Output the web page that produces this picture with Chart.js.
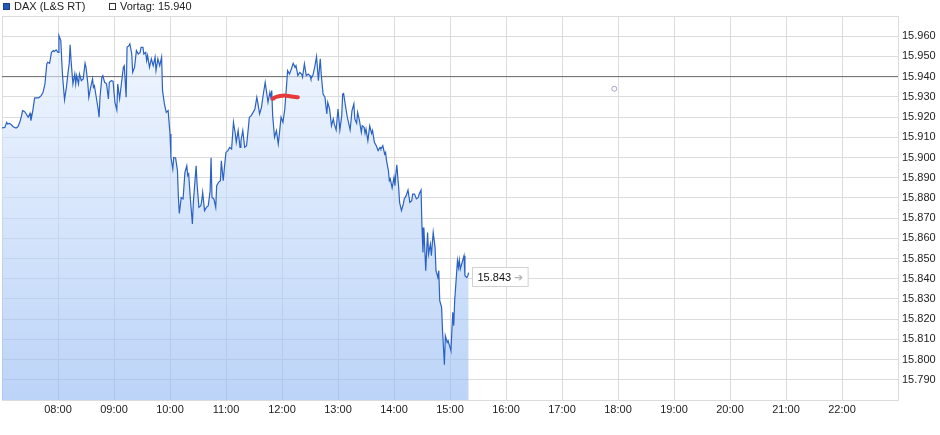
<!DOCTYPE html>
<html>
<head>
<meta charset="utf-8">
<script src="https://cdn.jsdelivr.net/npm/chart.js@4.4.1/dist/chart.umd.min.js"></script>
<style>
  body { margin: 0; background: #fff; }
  #wrap { position: relative; width: 940px; height: 435px; }
  #legend { position: absolute; left: 3px; top: 0; font: 11px "Liberation Sans", Arial, sans-serif; color: #222; line-height: 13px; white-space: nowrap; }
  #legend .item { position: absolute; top: 0; }
  #legend .box { display: inline-block; width: 7px; height: 7px; margin-right: 4px; box-sizing: border-box; vertical-align: 0; }
</style>
</head>
<body>
<div id="wrap">
  <canvas id="chart" width="940" height="435"></canvas>
  <div id="legend"></div>
</div>
<script>
var FONT = "'Liberation Sans', Arial, sans-serif"

// session starts 07:00, times are minutes after that
var START = 7 * 60
var times = [
  0, 3, 5, 6, 8, 10, 12, 15, 17, 19,
  21, 22, 24, 26, 28, 30, 31, 33, 35, 39,
  40, 42, 44, 46, 48, 49, 51, 53, 55, 56,
  58, 60, 61, 63, 64, 65, 67, 69, 71, 72,
  73, 74, 76, 78, 79, 80, 82, 83, 85, 87,
  89, 90, 92, 93, 95, 97, 98, 99, 101, 103,
  104, 105, 107, 108, 110, 112, 114, 115, 117, 119,
  121, 123, 124, 126, 128, 130, 131, 133, 134, 136,
  137, 139, 140, 142, 144, 146, 148, 149, 151, 152,
  154, 155, 156, 158, 160, 162, 164, 165, 167, 169, 171,
  172, 174, 176, 178, 180, 181, 183, 184, 186, 188,
  189, 190, 192, 194, 196, 198, 199, 200, 202, 204,
  205, 208, 209, 211, 213, 214, 215, 217, 219, 221,
  223, 224, 225, 227, 229, 230, 232, 234, 235, 237,
  239, 240, 242, 244, 246, 248, 250, 251, 253, 255,
  256, 258, 260, 262, 264, 265, 267, 269, 271, 273,
  274, 276, 278, 280, 282, 283, 285, 287, 288, 289,
  290, 292, 294, 296, 297, 299, 301, 303, 305, 306,
  308, 310, 312, 314, 315, 317, 319, 321, 322, 324,
  326, 328, 330, 331, 333, 335, 337, 339,
  341, 342, 344, 346, 348, 349, 351, 353, 355, 356,
  358, 360, 362, 364, 365, 366, 368, 370, 372, 373,
  375, 377, 378, 380, 381, 383, 385, 386, 388, 389,
  390, 392, 394, 396, 397, 399, 401, 403, 405, 406,
  408, 410, 411, 412, 414, 415, 416, 418, 420, 421,
  422, 423, 425, 426, 428, 430, 431, 433, 435, 437,
  439, 440, 442, 444, 446, 447, 449,
  450, 451, 452, 454, 455, 456, 457, 459, 460, 462,
  464, 465, 467, 468, 469, 471, 472, 473, 474, 475,
  477, 478, 480, 481, 482, 483, 484, 485, 487, 488,
  489, 490, 491, 493, 495, 496, 498, 499, 500
]
var values = [
  15914.6, 15914.9, 15917.4, 15916.6, 15916.9, 15916.2, 15915.2, 15914.6, 15915.2, 15917.4,
  15920.7, 15923.2, 15922.8, 15921.5, 15919.9, 15921.8, 15918.2, 15923.2, 15929.5, 15929.5,
  15929.8, 15930.6, 15932.2, 15936.4, 15946.3, 15947.1, 15946.6, 15952.0, 15952.9, 15952.5,
  15953.2, 15952.0, 15960.3, 15957.8, 15947.9, 15939.7, 15928.5, 15934.7, 15943.0, 15946.3,
  15955.8, 15947.9, 15936.4, 15941.3, 15936.4, 15940.5, 15936.4, 15941.3, 15938.0, 15938.9,
  15946.6, 15944.6, 15936.4, 15929.8, 15934.7, 15938.9, 15934.7, 15935.5, 15929.8, 15924.0,
  15919.9, 15929.8, 15939.7, 15940.5, 15937.2, 15936.4, 15929.0, 15937.2, 15938.0, 15937.7,
  15927.3, 15923.5, 15936.4, 15929.0, 15936.7, 15944.6, 15945.4, 15929.8, 15954.5, 15955.3,
  15956.2, 15951.2, 15942.1, 15944.6, 15952.9, 15951.2, 15952.0, 15954.5, 15954.5, 15951.2,
  15952.0, 15947.9, 15950.4, 15944.6, 15948.8, 15945.4, 15949.6, 15943.0, 15948.8, 15945.4, 15949.6,
  15933.1, 15926.5, 15922.3, 15923.2, 15911.6, 15900.0, 15894.3, 15900.0, 15899.8, 15893.5,
  15880.2, 15872.3, 15880.2, 15879.5, 15892.6, 15895.9, 15891.0, 15891.8, 15878.6, 15867.1,
  15877.8, 15895.9, 15886.9, 15875.3, 15876.1, 15878.6, 15882.7, 15873.7, 15875.3, 15876.1,
  15883.6, 15899.8, 15880.2, 15879.5, 15875.3, 15886.0, 15887.7, 15888.5, 15898.4, 15888.5,
  15898.4, 15902.5, 15903.4, 15905.0, 15904.2, 15917.4, 15911.6, 15907.5, 15913.3, 15905.0,
  15908.3, 15913.3, 15905.0, 15905.8, 15914.9, 15919.9, 15920.7, 15922.3, 15924.0, 15929.8,
  15927.3, 15921.5, 15924.8, 15931.4, 15937.2, 15933.9, 15927.3, 15932.2, 15929.8, 15933.1,
  15920.7, 15910.0, 15913.3, 15906.7, 15910.8, 15919.9, 15917.4, 15924.0, 15936.4, 15943.0,
  15941.3, 15943.8, 15946.6, 15944.6, 15945.4, 15940.5, 15942.1, 15941.3, 15939.7, 15946.3,
  15940.5, 15941.3, 15940.5, 15938.9, 15940.5, 15944.6, 15949.9, 15938.0,
  15948.8, 15941.3, 15931.4, 15929.8, 15921.5, 15927.3, 15924.0, 15915.7, 15919.1, 15916.6,
  15913.6, 15924.0, 15913.6, 15920.7, 15931.4, 15931.7, 15925.6, 15919.9, 15915.7, 15913.6,
  15923.2, 15926.5, 15919.1, 15916.9, 15922.3, 15918.2, 15912.4, 15915.7, 15914.9, 15911.9,
  15914.1, 15908.3, 15915.7, 15911.9, 15913.3, 15907.5, 15905.8, 15903.4, 15905.0, 15904.2,
  15905.8, 15901.7, 15902.5, 15898.4, 15893.5, 15888.5, 15889.4, 15884.9, 15890.2, 15886.0,
  15891.8, 15896.4, 15885.2, 15877.8, 15873.7, 15877.0, 15879.5, 15881.1, 15883.9, 15877.8,
  15878.6, 15881.9, 15881.9, 15879.5, 15880.2, 15881.9, 15883.9,
  15865.4, 15853.0, 15865.4, 15844.0, 15853.9, 15862.9, 15852.2, 15857.2, 15851.4, 15862.9,
  15855.5, 15844.0, 15840.6, 15844.0, 15829.1, 15825.8, 15814.3, 15806.0, 15797.4, 15811.8,
  15808.5, 15809.3, 15806.0, 15804.4, 15814.3, 15823.4, 15816.7, 15829.1, 15842.3, 15848.9,
  15845.6, 15849.3, 15844.8, 15848.1, 15851.4, 15841.5, 15840.6, 15841.5, 15843.0
]

var vortag = 15940
var markTimes = [290, 294, 301, 310, 317]
var markValues = [15929.0, 15930.0, 15930.6, 15930.2, 15929.8]
var dotTimes = [656]
var dotValues = [15934]

var xMin = 0, xMax = 960, xStep = 60
var yMin = 15780, yMax = 15970, yStep = 10

function fmt(v) {
  return String(Math.round(v)).replace(/\B(?=(\d{3})+(?!\d))/g, ".")
}
function hhmm(m) {
  var t = START + m
  var h = Math.floor(t / 60), mi = t % 60
  return (h < 10 ? "0" : "") + h + ":" + (mi < 10 ? "0" : "") + mi
}
function zip(xs, ys) {
  return xs.map(function (x, i) { return { x: x, y: ys[i] } })
}

var lastPrice = {
  id: "lastPrice",
  afterDatasetsDraw: function (chart) {
    var meta = chart.getDatasetMeta(0)
    var pt = meta.data[meta.data.length - 1]
    var c = chart.ctx
    var txt = fmt(values[values.length - 1])
    c.save()
    c.font = "11px " + FONT
    var w = c.measureText(txt).width
    var left = Math.round(pt.x) + 3.5, top = Math.round(pt.y) - 5.5
    var bw = w + 22, bh = 19
    c.fillStyle = "#fff"
    c.strokeStyle = "#d2d2d2"
    c.lineWidth = 1
    c.fillRect(left, top, bw, bh)
    c.strokeRect(left, top, bw, bh)
    c.fillStyle = "#111"
    c.textBaseline = "middle"
    c.fillText(txt, left + 5, top + bh / 2 + 0.5)
    c.fillStyle = "#b5b5b5"
    c.fillText("➔", left + 8 + w, top + bh / 2 + 0.5)
    c.restore()
  }
}

var ctx = document.getElementById("chart")
var chart = new Chart(ctx, {
  type: "line",
  data: {
    datasets: [
      {
        label: "DAX (L&S RT)",
        data: zip(times, values),
        borderColor: "#2b62c3",
        borderWidth: 1.2,
        pointRadius: 0,
        tension: 0,
        fill: "start",
        backgroundColor: function (c) {
          var a = c.chart.chartArea
          if (!a) return "rgba(143,183,243,0.3)"
          var g = c.chart.ctx.createLinearGradient(0, a.top, 0, a.bottom)
          g.addColorStop(0, "rgba(236,244,255,0.6)")
          g.addColorStop(1, "rgba(143,183,243,0.6)")
          return g
        },
        order: 2
      },
      {
        label: "Vortag: " + fmt(vortag),
        data: [{ x: xMin, y: vortag }, { x: xMax, y: vortag }],
        borderColor: "#6a6a6a",
        borderWidth: 1,
        pointRadius: 0,
        fill: false,
        order: 3
      },
      {
        label: "mark",
        data: zip(markTimes, markValues),
        borderColor: "#e53a3a",
        borderWidth: 4,
        borderCapStyle: "round",
        borderJoinStyle: "round",
        pointRadius: 0,
        tension: 0.4,
        fill: false,
        order: 1
      },
      {
        label: "dot",
        data: zip(dotTimes, dotValues),
        showLine: false,
        pointRadius: 2.5,
        pointBorderWidth: 1,
        pointBorderColor: "#a3a5c8",
        pointBackgroundColor: "#fff",
        order: 1
      }
    ]
  },
  options: {
    responsive: false,
    animation: false,
    layout: { autoPadding: false, padding: { top: 16, left: 2, right: 0, bottom: 0 } },
    plugins: {
      legend: { display: false },
      tooltip: { enabled: false }
    },
    scales: {
      x: {
        type: "linear",
        min: xMin,
        max: xMax,
        afterFit: function (s) {
          s.height = 35
          s.paddingLeft = 0
          s.paddingRight = 0
        },
        grid: { color: "#dcdcdc", drawTicks: false },
        border: { color: "#dcdcdc" },
        ticks: {
          stepSize: xStep,
          autoSkip: false,
          maxRotation: 0,
          padding: 3,
          color: "#222",
          font: { size: 11, family: FONT },
          callback: function (v) {
            if (v <= xMin || v >= xMax) return ""
            return hhmm(v)
          }
        }
      },
      y: {
        position: "right",
        min: yMin,
        max: yMax,
        afterFit: function (s) {
          s.width = 42
          s.paddingTop = 0
          s.paddingBottom = 0
        },
        grid: { color: "#dcdcdc", drawTicks: false },
        border: { color: "#dcdcdc" },
        ticks: {
          stepSize: yStep,
          padding: 4,
          color: "#222",
          font: { size: 11, family: FONT },
          callback: function (v) {
            if (v <= yMin || v >= yMax) return ""
            return fmt(v)
          }
        }
      }
    }
  },
  plugins: [lastPrice]
})

// legend as html, built from the first two datasets
var legend = document.getElementById("legend")
var legendItems = [
  { ds: chart.data.datasets[0], fill: "#2159b8", border: "#1a3f85", left: 0 },
  { ds: chart.data.datasets[1], fill: "#fff", border: "#333", left: 106 }
]
legendItems.forEach(function (it) {
  var span = document.createElement("span")
  span.className = "item"
  span.style.left = it.left + "px"
  var box = document.createElement("span")
  box.className = "box"
  box.style.background = it.fill
  box.style.border = "1px solid " + it.border
  span.appendChild(box)
  span.appendChild(document.createTextNode(it.ds.label))
  legend.appendChild(span)
})
</script>
</body>
</html>
